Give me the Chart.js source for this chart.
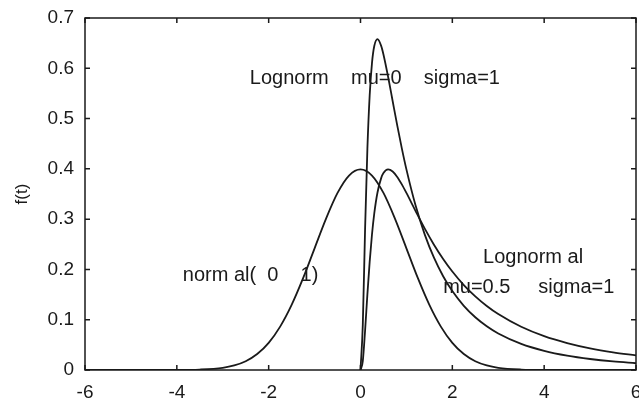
<!DOCTYPE html>
<html lang="en">
<head>
  <meta charset="UTF-8" />
  <title>Normal and lognormal densities</title>
  <style>
    body {
      margin: 0;
      padding: 0;
      background: #fff;
    }
    canvas {
      display: block;
    }
  </style>
</head>
<body>
  <canvas id="chart" width="639" height="402"></canvas>

  <script src="https://cdn.jsdelivr.net/npm/chart.js"></script>

  <script>
    // values
    const normX = [-6, -5, -4, -3.5, -3, -2.75, -2.5, -2.25, -2, -1.75, -1.5, -1.25, -1, -0.75, -0.5, -0.25,
                   0, 0.25, 0.5, 0.75, 1, 1.25, 1.5, 1.75, 2, 2.25, 2.5, 2.75, 3, 3.5, 4, 5, 6];
    const normY = [0, 0, 0.0001, 0.0009, 0.0044, 0.0091, 0.0175, 0.0317, 0.0540, 0.0863, 0.1295, 0.1826, 0.2420, 0.3011, 0.3521, 0.3867,
                   0.3989, 0.3867, 0.3521, 0.3011, 0.2420, 0.1826, 0.1295, 0.0863, 0.0540, 0.0317, 0.0175, 0.0091, 0.0044, 0.0009, 0.0001, 0, 0];

    const logX = [0, 0.05, 0.1, 0.15, 0.2, 0.25, 0.3, 0.37, 0.45, 0.5, 0.6, 0.7, 0.8, 0.9, 1,
                  1.2, 1.4, 1.6, 1.8, 2, 2.25, 2.5, 2.75, 3, 3.5, 4, 4.5, 5, 5.5, 6];
    const logMu0 = [0, 0.0897, 0.2815, 0.4397, 0.5463, 0.6104, 0.6442, 0.6578, 0.6446, 0.6275, 0.5836, 0.5349, 0.4864, 0.4408, 0.3989,
                    0.3269, 0.2693, 0.2233, 0.1865, 0.1569, 0.1276, 0.1049, 0.0870, 0.0727, 0.0520, 0.0382, 0.0286, 0.0219, 0.0170, 0.0134];
    const logMu05 = [0, 0.0177, 0.0786, 0.1503, 0.2156, 0.2694, 0.3114, 0.3530, 0.3816, 0.3916, 0.3989, 0.3948, 0.3840, 0.3691, 0.3521,
                     0.3161, 0.2812, 0.2492, 0.2208, 0.1958, 0.1689, 0.1464, 0.1273, 0.1112, 0.0859, 0.0673, 0.0536, 0.0431, 0.0351, 0.0289];

    const xTicks = [-6, -4, -2, 0, 2, 4, 6];
    const yTicks = [0, 0.1, 0.2, 0.3, 0.4, 0.5, 0.6, 0.7];

    // text placed on the plot, in data units (left edge, middle)
    const notes = [
      { text: 'Lognorm    mu=0    sigma=1', x: -2.41, y: 0.579 },
      { text: 'norm al(  0    1)', x: -3.87, y: 0.187 },
      { text: 'Lognorm al', x: 2.67, y: 0.223 },
      { text: 'mu=0.5     sigma=1', x: 1.80, y: 0.165 }
    ];

    const ink = '#1a1a1a';
    const font = 'Liberation Sans, Arial, sans-serif';

    function points(xs, ys) {
      return xs.map((x, i) => ({ x: x, y: ys[i] }));
    }

    function curve(xs, ys) {
      return {
        data: points(xs, ys),
        showLine: true,
        borderColor: ink,
        borderWidth: 1.8,
        pointRadius: 0,
        cubicInterpolationMode: 'monotone',
        fill: false
      };
    }

    // matlab style box with inward ticks, plus the text notes
    const framePlugin = {
      id: 'frame',
      afterDatasetsDraw(chart) {
        const ctx = chart.ctx;
        const a = chart.chartArea;
        const xs = chart.scales.x;
        const ys = chart.scales.y;
        ctx.save();
        ctx.strokeStyle = ink;
        ctx.lineWidth = 1.5;
        ctx.strokeRect(a.left, a.top, a.right - a.left, a.bottom - a.top);
        ctx.beginPath();
        xTicks.forEach(v => {
          const px = xs.getPixelForValue(v);
          ctx.moveTo(px, a.bottom); ctx.lineTo(px, a.bottom - 5);
          ctx.moveTo(px, a.top); ctx.lineTo(px, a.top + 5);
        });
        yTicks.forEach(v => {
          const py = ys.getPixelForValue(v);
          ctx.moveTo(a.left, py); ctx.lineTo(a.left + 5, py);
          ctx.moveTo(a.right, py); ctx.lineTo(a.right - 5, py);
        });
        ctx.stroke();

        ctx.fillStyle = ink;
        ctx.font = '20px ' + font;
        ctx.textAlign = 'left';
        ctx.textBaseline = 'middle';
        notes.forEach(n => {
          ctx.fillText(n.text, xs.getPixelForValue(n.x), ys.getPixelForValue(n.y));
        });
        ctx.restore();
      }
    };

    new Chart(document.getElementById('chart'), {
      type: 'scatter',
      data: {
        datasets: [
          curve(normX, normY),
          curve(logX, logMu0),
          curve(logX, logMu05)
        ]
      },
      options: {
        responsive: false,
        devicePixelRatio: 1,
        animation: false,
        layout: { padding: { top: 18, right: 3, left: 0, bottom: 0 } },
        plugins: {
          legend: { display: false },
          tooltip: { enabled: false }
        },
        scales: {
          x: {
            type: 'linear',
            min: -6,
            max: 6,
            grid: { display: false, drawTicks: false },
            border: { display: false },
            afterBuildTicks: s => { s.ticks = xTicks.map(v => ({ value: v })); },
            afterFit: s => {
              s.height = 32;
              s.paddingLeft = 0; s.paddingRight = 0;
            },
            ticks: {
              color: ink,
              padding: 11,
              maxRotation: 0,
              font: { family: font, size: 19 },
              callback: v => String(v)
            }
          },
          y: {
            type: 'linear',
            min: 0,
            max: 0.7,
            grid: { display: false, drawTicks: false },
            border: { display: false },
            afterBuildTicks: s => { s.ticks = yTicks.map(v => ({ value: v })); },
            afterFit: s => {
              s.width = 85;
              s.paddingTop = 0; s.paddingBottom = 0;
            },
            title: {
              display: true,
              text: 'f(t)',
              color: ink,
              font: { family: font, size: 17 },
              padding: { top: 12, bottom: 0 }
            },
            ticks: {
              color: ink,
              padding: 11,
              font: { family: font, size: 19 },
              callback: v => String(Math.round(v * 10) / 10)
            }
          }
        }
      },
      plugins: [framePlugin]
    });
  </script>
</body>
</html>
